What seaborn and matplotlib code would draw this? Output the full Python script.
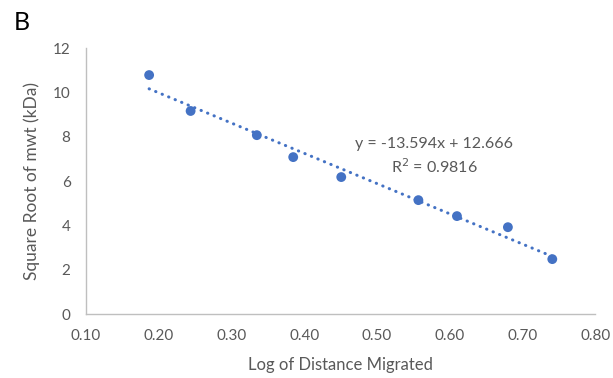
import numpy as np
import pandas as pd
import matplotlib
matplotlib.use("Agg")
import matplotlib.pyplot as plt
import seaborn as sns
from matplotlib.ticker import MultipleLocator

# values
log_distance = [0.187, 0.244, 0.335, 0.385, 0.451, 0.557, 0.610, 0.680, 0.741]
sqrt_mwt = [10.78, 9.16, 8.07, 7.08, 6.18, 5.14, 4.42, 3.92, 2.48]
equation_text = "y = -13.594x + 12.666"
r2_text = "R$^2$ = 0.9816"

blue = "#4472C4"
grey_axis = "#BFBFBF"
grey_text = "#595959"

sns.set_style("white")
plt.rcParams['font.family'] = ['Lato', 'DejaVu Sans']

df = pd.DataFrame({"x": log_distance, "y": sqrt_mwt})

fig = plt.figure(figsize=(6.13, 3.78), dpi=100)
ax = fig.add_axes([0.140, 0.169, 0.831, 0.704])

# scatter + least squares trendline, dotted like Excel
sns.regplot(data=df, x="x", y="y", ax=ax, ci=None, color=blue,
            scatter_kws={"s": 50, "alpha": 1, "edgecolor": "none", "zorder": 3},
            line_kws={"linestyle": (0, (0.1, 2.2)), "linewidth": 2.2,
                      "dash_capstyle": "round", "zorder": 2})

ax.set_xlim(0.10, 0.80)
ax.set_ylim(0, 12)
ax.xaxis.set_major_locator(MultipleLocator(0.10))
ax.xaxis.set_minor_locator(MultipleLocator(0.02))
ax.yaxis.set_major_locator(MultipleLocator(2))
ax.yaxis.set_minor_locator(MultipleLocator(0.4))
ax.set_xticklabels([f"{v:.2f}" for v in ax.get_xticks()])

for side in ["top", "right"]:
    ax.spines[side].set_visible(False)
for side in ["left", "bottom"]:
    ax.spines[side].set_color(grey_axis)
    ax.spines[side].set_linewidth(1.0)

ax.tick_params(which="both", direction="out", color=grey_axis, width=0.8,
               labelcolor=grey_text, labelsize=11)
ax.tick_params(which="major", length=5, pad=6)
ax.tick_params(which="minor", length=4)

ax.set_xlabel("Log of Distance Migrated", fontsize=12, color=grey_text, labelpad=10)
ax.set_ylabel("Square Root of mwt (kDa)", fontsize=12.5, color=grey_text, labelpad=9)

ax.text(0.684, 0.639, equation_text, transform=ax.transAxes, ha="center",
        va="center", fontsize=11.5, color=grey_text)
ax.text(0.684, 0.553, r2_text, transform=ax.transAxes, ha="center",
        va="center", fontsize=11.5, color=grey_text)

fig.text(0.022, 0.94, "B", fontsize=18, color="black", ha="left", va="center")

fig.savefig("out.png", dpi=100)
